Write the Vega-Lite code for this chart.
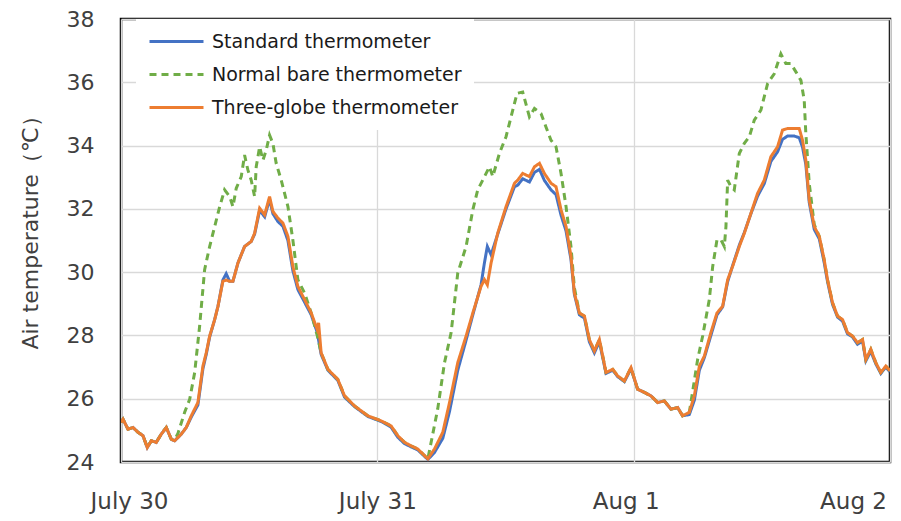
{
  "$schema": "https://vega.github.io/schema/vega-lite/v6.json",
  "width": 769,
  "height": 443,
  "autosize": "none",
  "padding": {"left": 121, "top": 19, "right": 11, "bottom": 59},
  "background": "white",
  "config": {"view": {"stroke": "#000000", "strokeWidth": 2.5}, "font": "DejaVu Sans"},
  "data": {"values": [
    {"h":0,"v":25.25,"s":"Standard thermometer"},{"h":0.19,"v":25.35,"s":"Standard thermometer"},{"h":0.65,"v":25.04,"s":"Standard thermometer"},{"h":1.12,"v":25.09,"s":"Standard thermometer"},{"h":1.59,"v":24.94,"s":"Standard thermometer"},{"h":2.06,"v":24.83,"s":"Standard thermometer"},{"h":2.46,"v":24.46,"s":"Standard thermometer"},{"h":2.84,"v":24.67,"s":"Standard thermometer"},{"h":3.3,"v":24.62,"s":"Standard thermometer"},{"h":3.77,"v":24.88,"s":"Standard thermometer"},{"h":4.24,"v":25.09,"s":"Standard thermometer"},{"h":4.71,"v":24.72,"s":"Standard thermometer"},{"h":5.02,"v":24.67,"s":"Standard thermometer"},{"h":5.64,"v":24.88,"s":"Standard thermometer"},{"h":6.11,"v":25.09,"s":"Standard thermometer"},{"h":6.58,"v":25.42,"s":"Standard thermometer"},{"h":7.2,"v":25.8,"s":"Standard thermometer"},{"h":7.67,"v":26.95,"s":"Standard thermometer"},{"h":7.98,"v":27.4,"s":"Standard thermometer"},{"h":8.3,"v":27.95,"s":"Standard thermometer"},{"h":8.77,"v":28.5,"s":"Standard thermometer"},{"h":9.08,"v":28.92,"s":"Standard thermometer"},{"h":9.54,"v":29.75,"s":"Standard thermometer"},{"h":9.85,"v":29.95,"s":"Standard thermometer"},{"h":10.17,"v":29.71,"s":"Standard thermometer"},{"h":10.48,"v":29.71,"s":"Standard thermometer"},{"h":10.95,"v":30.29,"s":"Standard thermometer"},{"h":11.57,"v":30.81,"s":"Standard thermometer"},{"h":12.19,"v":30.97,"s":"Standard thermometer"},{"h":12.51,"v":31.2,"s":"Standard thermometer"},{"h":12.98,"v":31.95,"s":"Standard thermometer"},{"h":13.45,"v":31.75,"s":"Standard thermometer"},{"h":13.91,"v":32.3,"s":"Standard thermometer"},{"h":14.22,"v":31.85,"s":"Standard thermometer"},{"h":14.69,"v":31.6,"s":"Standard thermometer"},{"h":15.16,"v":31.45,"s":"Standard thermometer"},{"h":15.63,"v":31.0,"s":"Standard thermometer"},{"h":16.09,"v":30.05,"s":"Standard thermometer"},{"h":16.56,"v":29.45,"s":"Standard thermometer"},{"h":17.19,"v":29.05,"s":"Standard thermometer"},{"h":17.81,"v":28.65,"s":"Standard thermometer"},{"h":18.37,"v":28.1,"s":"Standard thermometer"},{"h":18.74,"v":27.4,"s":"Standard thermometer"},{"h":19.37,"v":26.9,"s":"Standard thermometer"},{"h":20.3,"v":26.58,"s":"Standard thermometer"},{"h":20.93,"v":26.05,"s":"Standard thermometer"},{"h":21.87,"v":25.75,"s":"Standard thermometer"},{"h":23.11,"v":25.44,"s":"Standard thermometer"},{"h":24.36,"v":25.28,"s":"Standard thermometer"},{"h":25.29,"v":25.1,"s":"Standard thermometer"},{"h":25.92,"v":24.78,"s":"Standard thermometer"},{"h":26.55,"v":24.58,"s":"Standard thermometer"},{"h":27.16,"v":24.48,"s":"Standard thermometer"},{"h":27.79,"v":24.38,"s":"Standard thermometer"},{"h":28.42,"v":24.18,"s":"Standard thermometer"},{"h":28.73,"v":24.08,"s":"Standard thermometer"},{"h":29.35,"v":24.3,"s":"Standard thermometer"},{"h":30.13,"v":24.75,"s":"Standard thermometer"},{"h":30.76,"v":25.6,"s":"Standard thermometer"},{"h":31.53,"v":26.9,"s":"Standard thermometer"},{"h":32.31,"v":27.85,"s":"Standard thermometer"},{"h":32.94,"v":28.65,"s":"Standard thermometer"},{"h":33.71,"v":29.6,"s":"Standard thermometer"},{"h":34.03,"v":30.3,"s":"Standard thermometer"},{"h":34.3,"v":30.81,"s":"Standard thermometer"},{"h":34.65,"v":30.55,"s":"Standard thermometer"},{"h":35.27,"v":31.2,"s":"Standard thermometer"},{"h":36.05,"v":32.0,"s":"Standard thermometer"},{"h":36.84,"v":32.7,"s":"Standard thermometer"},{"h":37.15,"v":32.75,"s":"Standard thermometer"},{"h":37.61,"v":32.95,"s":"Standard thermometer"},{"h":38.24,"v":32.85,"s":"Standard thermometer"},{"h":38.71,"v":33.15,"s":"Standard thermometer"},{"h":39.18,"v":33.25,"s":"Standard thermometer"},{"h":39.64,"v":32.9,"s":"Standard thermometer"},{"h":40.26,"v":32.6,"s":"Standard thermometer"},{"h":40.73,"v":32.45,"s":"Standard thermometer"},{"h":41.2,"v":31.8,"s":"Standard thermometer"},{"h":41.67,"v":31.3,"s":"Standard thermometer"},{"h":42.13,"v":30.4,"s":"Standard thermometer"},{"h":42.45,"v":29.3,"s":"Standard thermometer"},{"h":42.92,"v":28.65,"s":"Standard thermometer"},{"h":43.39,"v":28.55,"s":"Standard thermometer"},{"h":43.85,"v":27.8,"s":"Standard thermometer"},{"h":44.32,"v":27.45,"s":"Standard thermometer"},{"h":44.79,"v":27.8,"s":"Standard thermometer"},{"h":45.41,"v":26.8,"s":"Standard thermometer"},{"h":46.04,"v":26.9,"s":"Standard thermometer"},{"h":46.5,"v":26.7,"s":"Standard thermometer"},{"h":47.13,"v":26.54,"s":"Standard thermometer"},{"h":47.75,"v":26.95,"s":"Standard thermometer"},{"h":48.37,"v":26.3,"s":"Standard thermometer"},{"h":49.0,"v":26.2,"s":"Standard thermometer"},{"h":49.62,"v":26.09,"s":"Standard thermometer"},{"h":50.25,"v":25.88,"s":"Standard thermometer"},{"h":50.87,"v":25.93,"s":"Standard thermometer"},{"h":51.49,"v":25.67,"s":"Standard thermometer"},{"h":52.12,"v":25.72,"s":"Standard thermometer"},{"h":52.58,"v":25.46,"s":"Standard thermometer"},{"h":53.21,"v":25.5,"s":"Standard thermometer"},{"h":53.68,"v":25.95,"s":"Standard thermometer"},{"h":54.15,"v":26.9,"s":"Standard thermometer"},{"h":54.62,"v":27.3,"s":"Standard thermometer"},{"h":55.23,"v":28.0,"s":"Standard thermometer"},{"h":55.8,"v":28.65,"s":"Standard thermometer"},{"h":56.33,"v":28.9,"s":"Standard thermometer"},{"h":56.8,"v":29.7,"s":"Standard thermometer"},{"h":57.26,"v":30.2,"s":"Standard thermometer"},{"h":57.89,"v":30.85,"s":"Standard thermometer"},{"h":58.36,"v":31.25,"s":"Standard thermometer"},{"h":58.98,"v":31.85,"s":"Standard thermometer"},{"h":59.6,"v":32.4,"s":"Standard thermometer"},{"h":60.23,"v":32.8,"s":"Standard thermometer"},{"h":60.85,"v":33.5,"s":"Standard thermometer"},{"h":61.47,"v":33.8,"s":"Standard thermometer"},{"h":61.94,"v":34.2,"s":"Standard thermometer"},{"h":62.41,"v":34.3,"s":"Standard thermometer"},{"h":63.04,"v":34.3,"s":"Standard thermometer"},{"h":63.5,"v":34.25,"s":"Standard thermometer"},{"h":63.81,"v":33.95,"s":"Standard thermometer"},{"h":64.12,"v":33.4,"s":"Standard thermometer"},{"h":64.44,"v":32.2,"s":"Standard thermometer"},{"h":64.91,"v":31.35,"s":"Standard thermometer"},{"h":65.38,"v":31.05,"s":"Standard thermometer"},{"h":65.84,"v":30.3,"s":"Standard thermometer"},{"h":66.15,"v":29.7,"s":"Standard thermometer"},{"h":66.62,"v":28.98,"s":"Standard thermometer"},{"h":67.09,"v":28.58,"s":"Standard thermometer"},{"h":67.56,"v":28.45,"s":"Standard thermometer"},{"h":68.02,"v":28.05,"s":"Standard thermometer"},{"h":68.49,"v":27.95,"s":"Standard thermometer"},{"h":68.96,"v":27.72,"s":"Standard thermometer"},{"h":69.43,"v":27.82,"s":"Standard thermometer"},{"h":69.74,"v":27.2,"s":"Standard thermometer"},{"h":70.2,"v":27.5,"s":"Standard thermometer"},{"h":70.67,"v":27.1,"s":"Standard thermometer"},{"h":71.14,"v":26.8,"s":"Standard thermometer"},{"h":71.61,"v":27.0,"s":"Standard thermometer"},{"h":72,"v":26.85,"s":"Standard thermometer"},

    {"h":0,"v":25.25,"s":"Normal bare thermometer"},{"h":0.19,"v":25.35,"s":"Normal bare thermometer"},{"h":0.65,"v":25.04,"s":"Normal bare thermometer"},{"h":1.12,"v":25.09,"s":"Normal bare thermometer"},{"h":1.59,"v":24.94,"s":"Normal bare thermometer"},{"h":2.06,"v":24.83,"s":"Normal bare thermometer"},{"h":2.46,"v":24.46,"s":"Normal bare thermometer"},{"h":2.84,"v":24.67,"s":"Normal bare thermometer"},{"h":3.3,"v":24.62,"s":"Normal bare thermometer"},{"h":3.77,"v":24.88,"s":"Normal bare thermometer"},{"h":4.24,"v":25.09,"s":"Normal bare thermometer"},{"h":4.71,"v":24.72,"s":"Normal bare thermometer"},{"h":5.02,"v":24.7,"s":"Normal bare thermometer"},{"h":5.33,"v":24.9,"s":"Normal bare thermometer"},{"h":5.96,"v":25.57,"s":"Normal bare thermometer"},{"h":6.43,"v":25.98,"s":"Normal bare thermometer"},{"h":6.9,"v":26.83,"s":"Normal bare thermometer"},{"h":7.36,"v":28.29,"s":"Normal bare thermometer"},{"h":7.83,"v":30.08,"s":"Normal bare thermometer"},{"h":8.3,"v":30.81,"s":"Normal bare thermometer"},{"h":8.77,"v":31.44,"s":"Normal bare thermometer"},{"h":9.24,"v":32.07,"s":"Normal bare thermometer"},{"h":9.7,"v":32.6,"s":"Normal bare thermometer"},{"h":10.17,"v":32.39,"s":"Normal bare thermometer"},{"h":10.48,"v":32.07,"s":"Normal bare thermometer"},{"h":10.79,"v":32.65,"s":"Normal bare thermometer"},{"h":11.26,"v":33.02,"s":"Normal bare thermometer"},{"h":11.57,"v":33.7,"s":"Normal bare thermometer"},{"h":11.88,"v":33.23,"s":"Normal bare thermometer"},{"h":12.19,"v":32.91,"s":"Normal bare thermometer"},{"h":12.51,"v":32.39,"s":"Normal bare thermometer"},{"h":12.66,"v":33.33,"s":"Normal bare thermometer"},{"h":12.98,"v":33.96,"s":"Normal bare thermometer"},{"h":13.29,"v":33.54,"s":"Normal bare thermometer"},{"h":13.6,"v":33.86,"s":"Normal bare thermometer"},{"h":13.91,"v":34.33,"s":"Normal bare thermometer"},{"h":14.22,"v":34.07,"s":"Normal bare thermometer"},{"h":14.53,"v":33.44,"s":"Normal bare thermometer"},{"h":15.0,"v":32.91,"s":"Normal bare thermometer"},{"h":15.63,"v":32.07,"s":"Normal bare thermometer"},{"h":16.09,"v":31.02,"s":"Normal bare thermometer"},{"h":16.56,"v":29.76,"s":"Normal bare thermometer"},{"h":17.19,"v":29.34,"s":"Normal bare thermometer"},{"h":17.81,"v":28.71,"s":"Normal bare thermometer"},{"h":18.37,"v":28.0,"s":"Normal bare thermometer"},{"h":18.74,"v":27.45,"s":"Normal bare thermometer"},{"h":19.37,"v":26.93,"s":"Normal bare thermometer"},{"h":20.3,"v":26.61,"s":"Normal bare thermometer"},{"h":20.93,"v":26.09,"s":"Normal bare thermometer"},{"h":21.87,"v":25.77,"s":"Normal bare thermometer"},{"h":23.11,"v":25.46,"s":"Normal bare thermometer"},{"h":24.36,"v":25.3,"s":"Normal bare thermometer"},{"h":25.29,"v":25.14,"s":"Normal bare thermometer"},{"h":25.92,"v":24.83,"s":"Normal bare thermometer"},{"h":26.55,"v":24.62,"s":"Normal bare thermometer"},{"h":27.16,"v":24.51,"s":"Normal bare thermometer"},{"h":27.79,"v":24.41,"s":"Normal bare thermometer"},{"h":28.42,"v":24.2,"s":"Normal bare thermometer"},{"h":28.73,"v":24.1,"s":"Normal bare thermometer"},{"h":29.65,"v":25.67,"s":"Normal bare thermometer"},{"h":30.29,"v":27.14,"s":"Normal bare thermometer"},{"h":30.91,"v":28.09,"s":"Normal bare thermometer"},{"h":31.53,"v":29.97,"s":"Normal bare thermometer"},{"h":32.31,"v":30.81,"s":"Normal bare thermometer"},{"h":32.94,"v":31.97,"s":"Normal bare thermometer"},{"h":33.4,"v":32.6,"s":"Normal bare thermometer"},{"h":33.87,"v":32.91,"s":"Normal bare thermometer"},{"h":34.5,"v":33.33,"s":"Normal bare thermometer"},{"h":34.81,"v":33.02,"s":"Normal bare thermometer"},{"h":35.43,"v":33.75,"s":"Normal bare thermometer"},{"h":36.05,"v":34.28,"s":"Normal bare thermometer"},{"h":36.68,"v":35.12,"s":"Normal bare thermometer"},{"h":37.08,"v":35.65,"s":"Normal bare thermometer"},{"h":37.61,"v":35.69,"s":"Normal bare thermometer"},{"h":38.24,"v":34.91,"s":"Normal bare thermometer"},{"h":38.71,"v":35.17,"s":"Normal bare thermometer"},{"h":39.33,"v":35.01,"s":"Normal bare thermometer"},{"h":39.79,"v":34.59,"s":"Normal bare thermometer"},{"h":40.26,"v":34.17,"s":"Normal bare thermometer"},{"h":40.73,"v":33.96,"s":"Normal bare thermometer"},{"h":41.2,"v":33.12,"s":"Normal bare thermometer"},{"h":41.67,"v":32.07,"s":"Normal bare thermometer"},{"h":42.13,"v":30.81,"s":"Normal bare thermometer"},{"h":42.45,"v":29.5,"s":"Normal bare thermometer"},{"h":42.92,"v":28.71,"s":"Normal bare thermometer"},{"h":43.39,"v":28.61,"s":"Normal bare thermometer"},{"h":43.85,"v":27.87,"s":"Normal bare thermometer"},{"h":44.32,"v":27.51,"s":"Normal bare thermometer"},{"h":44.79,"v":27.87,"s":"Normal bare thermometer"},{"h":45.41,"v":26.83,"s":"Normal bare thermometer"},{"h":46.04,"v":26.93,"s":"Normal bare thermometer"},{"h":46.5,"v":26.72,"s":"Normal bare thermometer"},{"h":47.13,"v":26.56,"s":"Normal bare thermometer"},{"h":47.75,"v":26.98,"s":"Normal bare thermometer"},{"h":48.37,"v":26.3,"s":"Normal bare thermometer"},{"h":49.0,"v":26.2,"s":"Normal bare thermometer"},{"h":49.62,"v":26.09,"s":"Normal bare thermometer"},{"h":50.25,"v":25.88,"s":"Normal bare thermometer"},{"h":50.87,"v":25.93,"s":"Normal bare thermometer"},{"h":51.49,"v":25.67,"s":"Normal bare thermometer"},{"h":52.12,"v":25.72,"s":"Normal bare thermometer"},{"h":52.58,"v":25.46,"s":"Normal bare thermometer"},{"h":53.21,"v":25.57,"s":"Normal bare thermometer"},{"h":53.36,"v":25.88,"s":"Normal bare thermometer"},{"h":53.99,"v":27.24,"s":"Normal bare thermometer"},{"h":54.46,"v":27.98,"s":"Normal bare thermometer"},{"h":55.08,"v":29.13,"s":"Normal bare thermometer"},{"h":55.4,"v":30.18,"s":"Normal bare thermometer"},{"h":55.8,"v":31.02,"s":"Normal bare thermometer"},{"h":56.17,"v":31.02,"s":"Normal bare thermometer"},{"h":56.49,"v":30.81,"s":"Normal bare thermometer"},{"h":56.64,"v":31.44,"s":"Normal bare thermometer"},{"h":56.8,"v":32.91,"s":"Normal bare thermometer"},{"h":57.11,"v":32.7,"s":"Normal bare thermometer"},{"h":57.42,"v":32.6,"s":"Normal bare thermometer"},{"h":57.89,"v":33.75,"s":"Normal bare thermometer"},{"h":58.36,"v":34.07,"s":"Normal bare thermometer"},{"h":58.83,"v":34.28,"s":"Normal bare thermometer"},{"h":59.29,"v":34.8,"s":"Normal bare thermometer"},{"h":59.91,"v":35.12,"s":"Normal bare thermometer"},{"h":60.54,"v":35.96,"s":"Normal bare thermometer"},{"h":61.16,"v":36.27,"s":"Normal bare thermometer"},{"h":61.78,"v":36.9,"s":"Normal bare thermometer"},{"h":62.25,"v":36.59,"s":"Normal bare thermometer"},{"h":62.72,"v":36.59,"s":"Normal bare thermometer"},{"h":63.19,"v":36.33,"s":"Normal bare thermometer"},{"h":63.66,"v":36.06,"s":"Normal bare thermometer"},{"h":63.97,"v":35.43,"s":"Normal bare thermometer"},{"h":64.12,"v":34.38,"s":"Normal bare thermometer"},{"h":64.44,"v":32.8,"s":"Normal bare thermometer"},{"h":64.91,"v":31.5,"s":"Normal bare thermometer"},{"h":65.38,"v":31.13,"s":"Normal bare thermometer"},{"h":65.84,"v":30.39,"s":"Normal bare thermometer"},{"h":66.15,"v":29.76,"s":"Normal bare thermometer"},{"h":66.62,"v":29.03,"s":"Normal bare thermometer"},{"h":67.09,"v":28.61,"s":"Normal bare thermometer"},{"h":67.56,"v":28.5,"s":"Normal bare thermometer"},{"h":68.02,"v":28.09,"s":"Normal bare thermometer"},{"h":68.49,"v":27.98,"s":"Normal bare thermometer"},{"h":68.96,"v":27.77,"s":"Normal bare thermometer"},{"h":69.43,"v":27.87,"s":"Normal bare thermometer"},{"h":69.74,"v":27.24,"s":"Normal bare thermometer"},{"h":70.2,"v":27.56,"s":"Normal bare thermometer"},{"h":70.67,"v":27.14,"s":"Normal bare thermometer"},{"h":71.14,"v":26.83,"s":"Normal bare thermometer"},{"h":71.61,"v":27.03,"s":"Normal bare thermometer"},{"h":72,"v":26.88,"s":"Normal bare thermometer"},

    {"h":0,"v":25.25,"s":"Three-globe thermometer"},{"h":0.19,"v":25.35,"s":"Three-globe thermometer"},{"h":0.65,"v":25.04,"s":"Three-globe thermometer"},{"h":1.12,"v":25.09,"s":"Three-globe thermometer"},{"h":1.59,"v":24.94,"s":"Three-globe thermometer"},{"h":2.06,"v":24.83,"s":"Three-globe thermometer"},{"h":2.46,"v":24.46,"s":"Three-globe thermometer"},{"h":2.84,"v":24.67,"s":"Three-globe thermometer"},{"h":3.3,"v":24.62,"s":"Three-globe thermometer"},{"h":3.77,"v":24.88,"s":"Three-globe thermometer"},{"h":4.24,"v":25.09,"s":"Three-globe thermometer"},{"h":4.71,"v":24.72,"s":"Three-globe thermometer"},{"h":5.02,"v":24.67,"s":"Three-globe thermometer"},{"h":5.64,"v":24.88,"s":"Three-globe thermometer"},{"h":6.11,"v":25.09,"s":"Three-globe thermometer"},{"h":6.58,"v":25.46,"s":"Three-globe thermometer"},{"h":7.2,"v":25.88,"s":"Three-globe thermometer"},{"h":7.67,"v":27.03,"s":"Three-globe thermometer"},{"h":7.98,"v":27.45,"s":"Three-globe thermometer"},{"h":8.3,"v":27.98,"s":"Three-globe thermometer"},{"h":8.77,"v":28.5,"s":"Three-globe thermometer"},{"h":9.08,"v":28.92,"s":"Three-globe thermometer"},{"h":9.54,"v":29.71,"s":"Three-globe thermometer"},{"h":9.85,"v":29.75,"s":"Three-globe thermometer"},{"h":10.17,"v":29.71,"s":"Three-globe thermometer"},{"h":10.48,"v":29.71,"s":"Three-globe thermometer"},{"h":10.95,"v":30.29,"s":"Three-globe thermometer"},{"h":11.57,"v":30.81,"s":"Three-globe thermometer"},{"h":12.19,"v":30.97,"s":"Three-globe thermometer"},{"h":12.51,"v":31.23,"s":"Three-globe thermometer"},{"h":12.98,"v":32.02,"s":"Three-globe thermometer"},{"h":13.45,"v":31.81,"s":"Three-globe thermometer"},{"h":13.91,"v":32.39,"s":"Three-globe thermometer"},{"h":14.22,"v":31.92,"s":"Three-globe thermometer"},{"h":14.69,"v":31.71,"s":"Three-globe thermometer"},{"h":15.16,"v":31.55,"s":"Three-globe thermometer"},{"h":15.63,"v":31.13,"s":"Three-globe thermometer"},{"h":16.09,"v":30.18,"s":"Three-globe thermometer"},{"h":16.56,"v":29.55,"s":"Three-globe thermometer"},{"h":17.19,"v":29.13,"s":"Three-globe thermometer"},{"h":17.81,"v":28.71,"s":"Three-globe thermometer"},{"h":18.37,"v":28.19,"s":"Three-globe thermometer"},{"h":18.5,"v":28.4,"s":"Three-globe thermometer"},{"h":18.74,"v":27.45,"s":"Three-globe thermometer"},{"h":19.37,"v":26.93,"s":"Three-globe thermometer"},{"h":20.3,"v":26.61,"s":"Three-globe thermometer"},{"h":20.93,"v":26.09,"s":"Three-globe thermometer"},{"h":21.87,"v":25.77,"s":"Three-globe thermometer"},{"h":23.11,"v":25.46,"s":"Three-globe thermometer"},{"h":24.36,"v":25.3,"s":"Three-globe thermometer"},{"h":25.29,"v":25.14,"s":"Three-globe thermometer"},{"h":25.92,"v":24.83,"s":"Three-globe thermometer"},{"h":26.55,"v":24.62,"s":"Three-globe thermometer"},{"h":27.16,"v":24.51,"s":"Three-globe thermometer"},{"h":27.79,"v":24.41,"s":"Three-globe thermometer"},{"h":28.42,"v":24.2,"s":"Three-globe thermometer"},{"h":28.73,"v":24.1,"s":"Three-globe thermometer"},{"h":29.35,"v":24.41,"s":"Three-globe thermometer"},{"h":30.13,"v":24.94,"s":"Three-globe thermometer"},{"h":30.76,"v":25.88,"s":"Three-globe thermometer"},{"h":31.53,"v":27.14,"s":"Three-globe thermometer"},{"h":32.31,"v":27.98,"s":"Three-globe thermometer"},{"h":32.94,"v":28.71,"s":"Three-globe thermometer"},{"h":33.71,"v":29.55,"s":"Three-globe thermometer"},{"h":34.03,"v":29.76,"s":"Three-globe thermometer"},{"h":34.3,"v":29.6,"s":"Three-globe thermometer"},{"h":34.65,"v":30.29,"s":"Three-globe thermometer"},{"h":35.27,"v":31.23,"s":"Three-globe thermometer"},{"h":36.05,"v":32.07,"s":"Three-globe thermometer"},{"h":36.84,"v":32.81,"s":"Three-globe thermometer"},{"h":37.15,"v":32.91,"s":"Three-globe thermometer"},{"h":37.61,"v":33.12,"s":"Three-globe thermometer"},{"h":38.24,"v":33.02,"s":"Three-globe thermometer"},{"h":38.71,"v":33.33,"s":"Three-globe thermometer"},{"h":39.18,"v":33.44,"s":"Three-globe thermometer"},{"h":39.64,"v":33.12,"s":"Three-globe thermometer"},{"h":40.26,"v":32.81,"s":"Three-globe thermometer"},{"h":40.73,"v":32.7,"s":"Three-globe thermometer"},{"h":41.2,"v":31.97,"s":"Three-globe thermometer"},{"h":41.67,"v":31.44,"s":"Three-globe thermometer"},{"h":42.13,"v":30.5,"s":"Three-globe thermometer"},{"h":42.45,"v":29.34,"s":"Three-globe thermometer"},{"h":42.92,"v":28.71,"s":"Three-globe thermometer"},{"h":43.39,"v":28.61,"s":"Three-globe thermometer"},{"h":43.85,"v":27.87,"s":"Three-globe thermometer"},{"h":44.32,"v":27.51,"s":"Three-globe thermometer"},{"h":44.79,"v":27.87,"s":"Three-globe thermometer"},{"h":45.41,"v":26.83,"s":"Three-globe thermometer"},{"h":46.04,"v":26.93,"s":"Three-globe thermometer"},{"h":46.5,"v":26.72,"s":"Three-globe thermometer"},{"h":47.13,"v":26.56,"s":"Three-globe thermometer"},{"h":47.75,"v":26.98,"s":"Three-globe thermometer"},{"h":48.37,"v":26.3,"s":"Three-globe thermometer"},{"h":49.0,"v":26.2,"s":"Three-globe thermometer"},{"h":49.62,"v":26.09,"s":"Three-globe thermometer"},{"h":50.25,"v":25.88,"s":"Three-globe thermometer"},{"h":50.87,"v":25.93,"s":"Three-globe thermometer"},{"h":51.49,"v":25.67,"s":"Three-globe thermometer"},{"h":52.12,"v":25.72,"s":"Three-globe thermometer"},{"h":52.58,"v":25.46,"s":"Three-globe thermometer"},{"h":53.21,"v":25.57,"s":"Three-globe thermometer"},{"h":53.68,"v":26.09,"s":"Three-globe thermometer"},{"h":54.15,"v":27.03,"s":"Three-globe thermometer"},{"h":54.62,"v":27.35,"s":"Three-globe thermometer"},{"h":55.23,"v":28.09,"s":"Three-globe thermometer"},{"h":55.8,"v":28.71,"s":"Three-globe thermometer"},{"h":56.33,"v":28.92,"s":"Three-globe thermometer"},{"h":56.8,"v":29.76,"s":"Three-globe thermometer"},{"h":57.26,"v":30.18,"s":"Three-globe thermometer"},{"h":57.89,"v":30.81,"s":"Three-globe thermometer"},{"h":58.36,"v":31.23,"s":"Three-globe thermometer"},{"h":58.98,"v":31.86,"s":"Three-globe thermometer"},{"h":59.6,"v":32.49,"s":"Three-globe thermometer"},{"h":60.23,"v":32.91,"s":"Three-globe thermometer"},{"h":60.85,"v":33.65,"s":"Three-globe thermometer"},{"h":61.47,"v":33.96,"s":"Three-globe thermometer"},{"h":61.94,"v":34.49,"s":"Three-globe thermometer"},{"h":62.41,"v":34.54,"s":"Three-globe thermometer"},{"h":63.04,"v":34.54,"s":"Three-globe thermometer"},{"h":63.5,"v":34.54,"s":"Three-globe thermometer"},{"h":63.81,"v":34.17,"s":"Three-globe thermometer"},{"h":64.12,"v":33.54,"s":"Three-globe thermometer"},{"h":64.44,"v":32.28,"s":"Three-globe thermometer"},{"h":64.91,"v":31.44,"s":"Three-globe thermometer"},{"h":65.38,"v":31.13,"s":"Three-globe thermometer"},{"h":65.84,"v":30.39,"s":"Three-globe thermometer"},{"h":66.15,"v":29.76,"s":"Three-globe thermometer"},{"h":66.62,"v":29.03,"s":"Three-globe thermometer"},{"h":67.09,"v":28.61,"s":"Three-globe thermometer"},{"h":67.56,"v":28.5,"s":"Three-globe thermometer"},{"h":68.02,"v":28.09,"s":"Three-globe thermometer"},{"h":68.49,"v":27.98,"s":"Three-globe thermometer"},{"h":68.96,"v":27.77,"s":"Three-globe thermometer"},{"h":69.43,"v":27.87,"s":"Three-globe thermometer"},{"h":69.74,"v":27.24,"s":"Three-globe thermometer"},{"h":70.2,"v":27.56,"s":"Three-globe thermometer"},{"h":70.67,"v":27.14,"s":"Three-globe thermometer"},{"h":71.14,"v":26.83,"s":"Three-globe thermometer"},{"h":71.61,"v":27.03,"s":"Three-globe thermometer"},{"h":72,"v":26.88,"s":"Three-globe thermometer"}
  ]},
  "mark": {"type": "line", "strokeWidth": 3, "clip": true},
  "encoding": {
    "x": {
      "field": "h", "type": "quantitative",
      "scale": {"domain": [0, 72], "nice": false, "zero": false},
      "axis": {
        "title": null, "values": [0, 24, 48, 72],
        "labelExpr": "datum.value == 0 ? 'July 30' : datum.value == 24 ? 'July 31' : datum.value == 48 ? 'Aug 1' : 'Aug 2'",
        "grid": true, "gridColor": "#d9d9d9", "gridWidth": 1.3,
        "domain": false, "ticks": false,
        "labelFont": "DejaVu Sans", "labelFontSize": 23, "labelColor": "#404040",
        "labelPadding": 28, "labelFlush": false, "labelOverlap": false, "labelBound": false,
        "labelOffset": {"condition": [{"test": "datum.value == 0", "value": 8}, {"test": "datum.value == 48", "value": -8}, {"test": "datum.value == 72", "value": -37}], "value": 0}
      }
    },
    "y": {
      "field": "v", "type": "quantitative",
      "scale": {"domain": [24, 38], "nice": false, "zero": false},
      "axis": {
        "title": "Air temperature（℃）", "values": [24, 26, 28, 30, 32, 34, 36, 38],
        "grid": true, "gridColor": "#d9d9d9", "gridWidth": 1.3,
        "domain": false, "ticks": false,
        "labelFont": "DejaVu Sans", "labelFontSize": 22, "labelColor": "#404040", "labelPadding": 27,
        "titleFont": "DejaVu Sans", "titleFontSize": 22, "titleFontWeight": "normal", "titleColor": "#404040",
        "titleX": -84, "titleY": 208, "titleAngle": -90, "titleAlign": "center", "titleBaseline": "alphabetic"
      }
    },
    "color": {
      "field": "s", "type": "nominal",
      "scale": {"domain": ["Standard thermometer", "Normal bare thermometer", "Three-globe thermometer"], "range": ["#4472C4", "#70AD47", "#ED7D31"]},
      "legend": {
        "title": null, "orient": "none", "legendX": 15, "legendY": 0,
        "padding": 12, "fillColor": "white", "strokeColor": null,
        "symbolType": "M-1,0H5", "symbolSize": 324, "symbolStrokeWidth": 3,
        "labelFont": "DejaVu Sans", "labelFontSize": 19, "labelColor": "#1a1a1a", "labelOffset": 43, "labelLimit": 500,
        "rowPadding": 12
      }
    },
    "strokeDash": {
      "field": "s", "type": "nominal",
      "scale": {"domain": ["Standard thermometer", "Normal bare thermometer", "Three-globe thermometer"], "range": [[1, 0], [7, 5], [1, 0]]},
      "legend": {
        "title": null, "orient": "none", "legendX": 15, "legendY": 0,
        "padding": 12, "fillColor": "white", "strokeColor": null,
        "symbolType": "M-1,0H5", "symbolSize": 324, "symbolStrokeWidth": 3,
        "labelFont": "DejaVu Sans", "labelFontSize": 19, "labelColor": "#1a1a1a", "labelOffset": 43, "labelLimit": 500,
        "rowPadding": 12
      }
    }
  }
}
